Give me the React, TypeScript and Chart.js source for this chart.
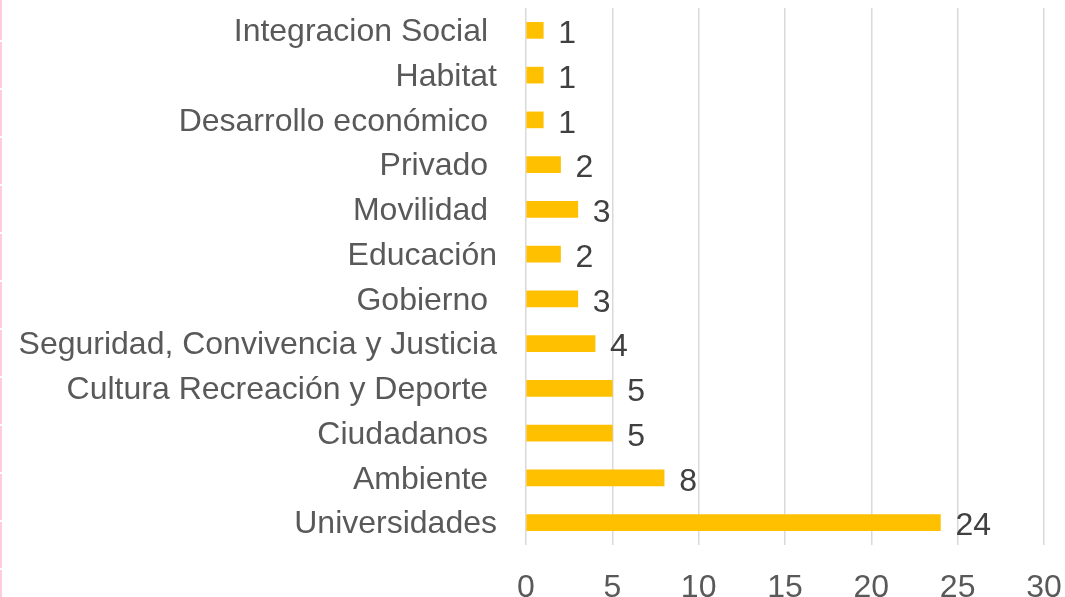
import React, { useEffect, useRef } from "react";
import { Chart, registerables } from "chart.js";

Chart.register(...registerables);

const categories = [
  "Integracion Social ",
  "Habitat",
  "Desarrollo económico ",
  "Privado ",
  "Movilidad ",
  "Educación",
  "Gobierno ",
  "Seguridad, Convivencia y Justicia",
  "Cultura Recreación y Deporte ",
  "Ciudadanos ",
  "Ambiente ",
  "Universidades",
];
const values = [1, 1, 1, 2, 3, 2, 3, 4, 5, 5, 8, 24];
const xTicks = [0, 5, 10, 15, 20, 25, 30];

const FONT = "'Liberation Sans', Arial, sans-serif";

const dataLabels = {
  id: "dataLabels",
  afterDatasetsDraw(chart: any) {
    const ctx = chart.ctx;
    const meta = chart.getDatasetMeta(0);
    ctx.save();
    ctx.font = `32px ${FONT}`;
    ctx.fillStyle = "#404040";
    ctx.textAlign = "left";
    ctx.textBaseline = "middle";
    meta.data.forEach((el: any, i: number) => {
      ctx.fillText(String(values[i]), el.x + 15, el.y + 4);
    });
    ctx.restore();
  },
};

export default function App() {
  const ref = useRef<HTMLCanvasElement | null>(null);
  useEffect(() => {
    document.body.style.margin = "0";
    const chart = new Chart(ref.current!, {
      type: "bar",
      data: {
        labels: categories,
        datasets: [
          {
            data: values,
            backgroundColor: "#FFC000",
            borderWidth: 0,
            barThickness: 16,
          },
        ],
      },
      options: {
        indexAxis: "y",
        animation: false,
        responsive: false,
        maintainAspectRatio: false,
        layout: { padding: { top: 8, right: 21, left: 0, bottom: 0 } },
        plugins: { legend: { display: false }, tooltip: { enabled: false } },
        scales: {
          x: {
            min: 0,
            max: 30,
            afterBuildTicks: (s: any) => {
              s.ticks = xTicks.map((v) => ({ value: v }));
            },
            grid: { color: "#D9D9D9", lineWidth: 1.5, drawTicks: false },
            border: { display: false },
            ticks: {
              padding: 24,
              color: "#595959",
              font: { size: 32, family: FONT },
            },
            afterFit: (s: any) => {
              s.height = 52;
              s.paddingLeft = 0;
              s.paddingRight = 0;
            },
          },
          y: {
            grid: { display: false, drawTicks: false },
            border: { display: false },
            ticks: {
              padding: 29,
              labelOffset: 2,
              color: "#595959",
              font: { size: 32, family: FONT },
            },
            afterFit: (s: any) => {
              s.width = 526;
              s.paddingTop = 0;
              s.paddingBottom = 0;
            },
          },
        },
      },
      plugins: [dataLabels],
    });
    return () => chart.destroy();
  }, []);
  return (
    <div style={{ position: "relative", width: 1065, height: 597, background: "#fff" }}>
      <div
        style={{
          position: "absolute",
          left: 0,
          top: 0,
          width: 2,
          height: 597,
          background:
            "repeating-linear-gradient(to bottom, #FFCCDD 0px, #FFCCDD 46px, #ffffff 46px, #ffffff 48px)",
          backgroundPosition: "0 -6px",
        }}
      />
      <canvas ref={ref} width={1065} height={597} style={{ display: "block" }} />
    </div>
  );
}
